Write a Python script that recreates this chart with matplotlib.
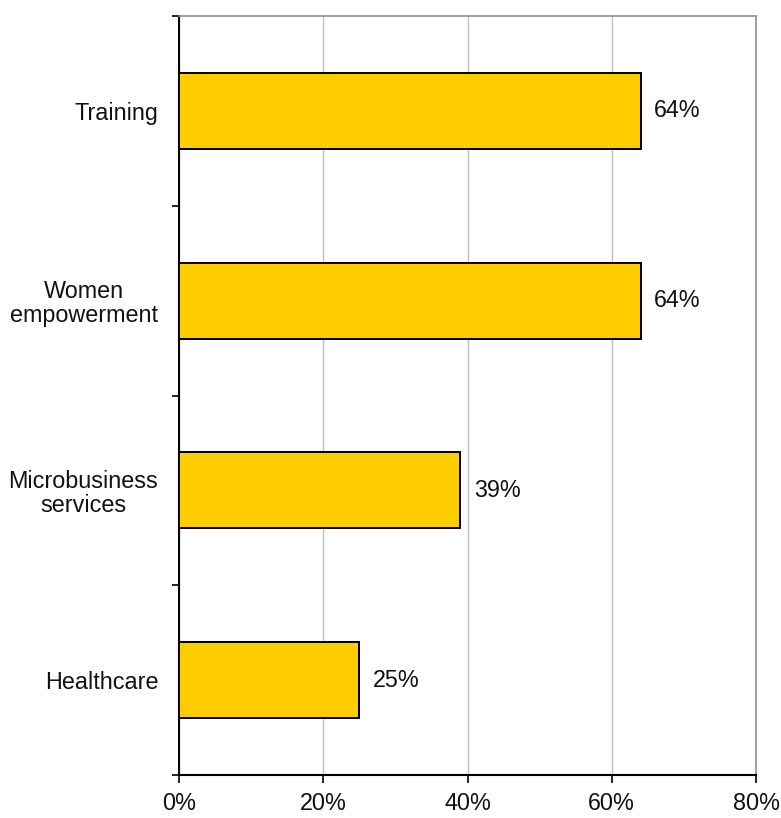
import matplotlib
matplotlib.use("Agg")
import matplotlib.pyplot as plt
from matplotlib.ticker import FixedLocator, FuncFormatter

categories = ["Training", "Women\nempowerment", "Microbusiness\nservices", "Healthcare"]
values = [64, 64, 39, 25]
x_ticks = [0, 20, 40, 60, 80]

plt.rcParams["font.family"] = ["Liberation Sans", "DejaVu Sans"]
FS = 16.8

fig = plt.figure(figsize=(7.81, 8.18), dpi=100)
ax = fig.add_axes([0.2292, 0.0526, 0.9680 - 0.2292, 0.9804 - 0.0526])

pos = list(range(len(categories)))
ax.barh(pos, values, height=0.4, color="#FFCC00", edgecolor="black",
        linewidth=1.4, zorder=3)
for p, v in zip(pos, values):
    ax.text(v + 1.9, p, f"{v}%", va="center", ha="left", fontsize=FS,
            color="#111111")

ax.set_xlim(0, 80)
ax.set_ylim(len(categories) - 0.5, -0.5)

ax.xaxis.set_major_locator(FixedLocator(x_ticks))
ax.xaxis.set_major_formatter(FuncFormatter(lambda v, _: f"{v:.0f}%"))
ax.grid(axis="x", color="#c0c0c0", linewidth=1.0, zorder=0)

# category labels centred between boundary ticks
ax.yaxis.set_major_locator(FixedLocator([i - 0.5 for i in range(len(categories) + 1)]))
ax.yaxis.set_minor_locator(FixedLocator(pos))
ax.set_yticklabels([])
ax.set_yticklabels(categories, minor=True, fontsize=FS, ha="right",
                   multialignment="center", linespacing=1.05, color="#111111")
ax.tick_params(axis="y", which="major", length=5, width=1.2, direction="out")
ax.tick_params(axis="y", which="minor", length=0, pad=15)
ax.tick_params(axis="x", which="major", length=6, width=1.2, direction="out",
               labelsize=FS, pad=6.5, labelcolor="#111111")
for lbl in ax.get_xticklabels():
    lbl.set_clip_on(False)

for s in ("left", "bottom"):
    ax.spines[s].set_color("black")
    ax.spines[s].set_linewidth(1.5)
for s in ("top", "right"):
    ax.spines[s].set_color("#909090")
    ax.spines[s].set_linewidth(1.2)

fig.savefig("out.png", dpi=100)
